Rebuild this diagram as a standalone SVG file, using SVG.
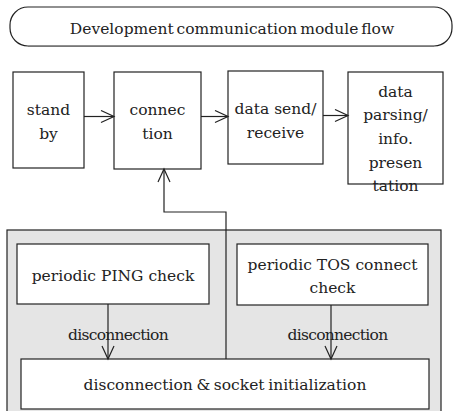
<svg xmlns="http://www.w3.org/2000/svg" width="454" height="411" viewBox="0 0 454 411">
<style>
  text { font-family: 'DejaVu Serif', serif; font-size: 15.5px; fill: #222; text-anchor: middle; }
  .box { fill: #fff; stroke: #222; stroke-width: 1.2; }
  .con { fill: none; stroke: #222; stroke-width: 1.2; }
  .lbl { letter-spacing: -0.7px; }
</style>
<defs>
  <marker id="arr" markerUnits="userSpaceOnUse" markerWidth="16" markerHeight="16" refX="14" refY="7" orient="auto">
    <path d="M1,1 L14,7 L1,13" fill="none" stroke="#222" stroke-width="1.2"/>
  </marker>
</defs>

<g id="title">
  <rect x="10" y="7" width="442" height="39" rx="18" ry="18" fill="#fff" stroke="#222" stroke-width="1.2"/>
  <line x1="28" y1="46.5" x2="434" y2="46.5" stroke="#777" stroke-width="1"/>
  <text x="232" y="34" word-spacing="-2">Development communication module flow</text>
</g>

<g id="standby">
  <rect class="box" x="13" y="72" width="71" height="96"/>
  <text x="48.5" y="115">stand</text>
  <text x="48.5" y="139">by</text>
</g>

<g id="connection">
  <rect class="box" x="114" y="72" width="87" height="97"/>
  <text x="157.5" y="115">connec</text>
  <text x="157.5" y="139">tion</text>
</g>

<g id="datasend">
  <rect class="box" x="228" y="71" width="95" height="93"/>
  <text x="275.5" y="114">data send/</text>
  <text x="275.5" y="138">receive</text>
</g>

<g id="parsing">
  <rect class="box" x="348" y="72" width="95" height="112"/>
  <text x="395.5" y="97">data</text>
  <text x="395.5" y="120">parsing/</text>
  <text x="395.5" y="144">info.</text>
  <text x="395.5" y="168">presen</text>
  <text x="395.5" y="191">tation</text>
</g>

<g id="container">
  <rect x="7" y="230" width="434" height="185" fill="#e5e5e5" stroke="#222" stroke-width="1.2"/>
</g>

<g id="ping">
  <rect class="box" x="17" y="244" width="192" height="60"/>
  <text x="113" y="281">periodic PING check</text>
</g>

<g id="tos">
  <rect class="box" x="237" y="244" width="191" height="61"/>
  <text x="332.5" y="270">periodic TOS connect</text>
  <text x="332.5" y="293">check</text>
</g>

<g id="reset">
  <rect class="box" x="21" y="359" width="408" height="50"/>
  <text x="225" y="390" word-spacing="-1.3">disconnection &amp; socket initialization</text>
</g>

<g id="labels">
  <text class="lbl" x="118" y="340">disconnection</text>
  <text class="lbl" x="337.5" y="340">disconnection</text>
</g>

<g id="connectors">
  <line class="con" x1="84" y1="116.5" x2="114" y2="116.5" marker-end="url(#arr)"/>
  <line class="con" x1="201" y1="116.5" x2="228" y2="116.5" marker-end="url(#arr)"/>
  <line class="con" x1="323" y1="115.5" x2="348" y2="115.5" marker-end="url(#arr)"/>
  <polyline class="con" points="226,359 226,212 164,212 164,169" marker-end="url(#arr)"/>
  <line class="con" x1="108" y1="304" x2="108" y2="359" marker-end="url(#arr)"/>
  <line class="con" x1="331" y1="305" x2="331" y2="359" marker-end="url(#arr)"/>
</g>
</svg>
